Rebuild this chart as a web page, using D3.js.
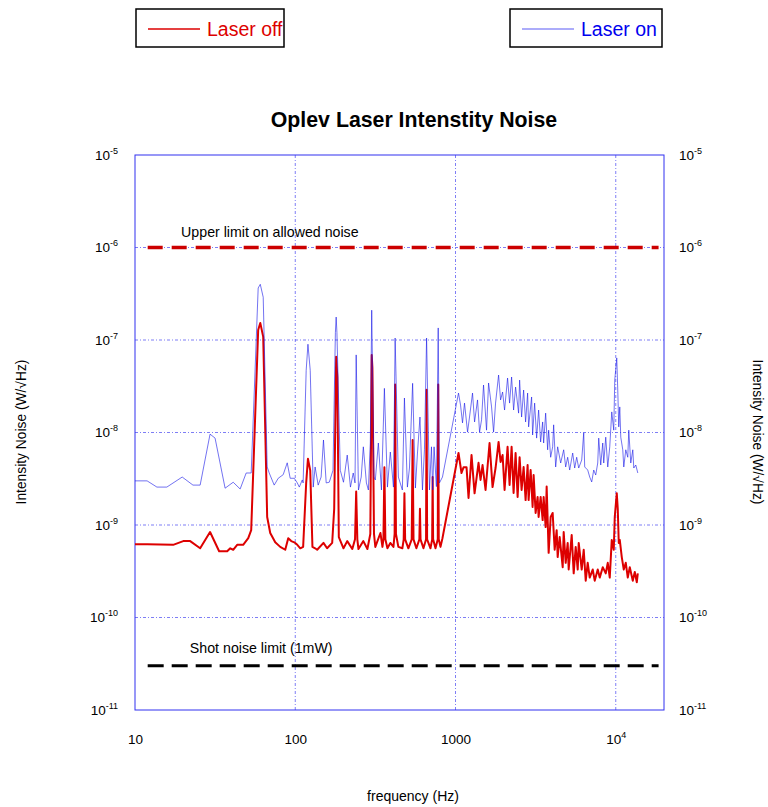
<!DOCTYPE html>
<html>
<head>
<meta charset="utf-8">
<script src="https://cdn.jsdelivr.net/npm/d3@7"></script>
<style>
  body { margin: 0; background: #fff; }
  text { font-family: "Liberation Sans", Arial, sans-serif; }
</style>
</head>
<body>
<svg id="chart" width="768" height="807"></svg>
<script>
// frequency (Hz), intensity noise (W/rtHz)
var laserOff = [
  [10,6.2e-10],[11.9,6.2e-10],[17.3,6.1e-10],[20,6.7e-10],[22.1,6.7e-10],[25.5,5.6e-10],[29.4,8.4e-10],
  [33.5,5.2e-10],[37.6,5.2e-10],[39.3,5.6e-10],[41,5.4e-10],[43.4,6.1e-10],[47.3,6.1e-10],[50.9,7.2e-10],
  [53.1,8.8e-10],[58.7,1.28e-7],[60.5,1.53e-7],[63.1,1.08e-7],[66.8,1.22e-9],[69.8,8.2e-10],[75,6.5e-10],
  [80.6,5.8e-10],[86.6,5.4e-10],[90.4,7.2e-10],[94.4,6.7e-10],[98.6,6.5e-10],[103,6.1e-10],[107.5,5.6e-10],
  [112,5.8e-10],[117,2.85e-9],[120,5.2e-9],[124,3.9e-9],[128,5.8e-10],[133,5.6e-10],[137,5.4e-10],
  [150,6.4e-10],[158,5.6e-10],[170,6.4e-10],[175,1.5e-9],[180,6.6e-8],[183,4e-8],[187,7.4e-10],
  [200,5.6e-10],[211,6.7e-10],[227,5.5e-10],[236,7e-10],[240,2.3e-9],[244,7e-10],[248,5.5e-10],
  [266,6.7e-10],[282,5.5e-10],[294,8e-10],[300,6.9e-8],[303,5e-8],[310,8e-10],[316,5.8e-10],
  [340,8.2e-10],[350,5.8e-10],[355,7e-10],[360,4.2e-9],[365,7e-10],[376,5.6e-10],[392,6.4e-10],
  [410,5.8e-10],[417,8e-10],[420,3.3e-8],[425,8e-10],[440,5.8e-10],[466,5.6e-10],[475,7e-10],
  [480,2.2e-9],[485,7e-10],[508,5.6e-10],[533,7e-10],[540,8.3e-9],[547,7e-10],[570,5.6e-10],
  [595,7e-10],[600,1.5e-9],[605,7e-10],[631,5.6e-10],[655,7e-10],[660,2.9e-8],[665,7e-10],
  [698,5.6e-10],[715,7e-10],[720,3.3e-9],[725,7e-10],[750,5.6e-10],[775,7e-10],[780,3.3e-8],
  [786,7e-10],[806,5.8e-10],[829,7.2e-10],
  [1044,6.0e-9],[1090,3.65e-9],[1122,4.2e-9],[1172,4.2e-9],[1206,1.96e-9],[1259,5.7e-9],[1315,2.2e-9],
  [1392,4.7e-9],[1433,3.07e-9],[1475,4.45e-9],[1540,2.39e-9],[1631,7.7e-9],[1703,2.57e-9],[1778,4.13e-9],
  [1857,7.9e-9],[1911,4.8e-9],[1967,5.7e-9],[2024,2.39e-9],[2113,7.0e-9],[2175,2.71e-9],[2239,7.0e-9],
  [2304,2.22e-9],[2371,6.0e-9],[2441,2.01e-9],[2512,5.4e-9],[2585,2.39e-9],[2661,4.24e-9],[2738,1.86e-9],
  [2818,4.45e-9],[2859,1.86e-9],[2943,3.93e-9],[3028,1.57e-9],[3072,3.47e-9],[3162,1.35e-9],[3254,2.01e-9],
  [3301,1.22e-9],[3398,2.01e-9],[3498,1.13e-9],[3548,2.01e-9],[3652,9.5e-10],[3705,2.6e-9],[3813,5.0e-10],
  [3925,1.22e-9],[4039,1.35e-9],[4157,5.4e-10],[4278,8.8e-10],[4340,4.5e-10],[4467,7.4e-10],[4665,3.5e-10],
  [4732,8.4e-10],[4870,3.9e-10],[5012,6.4e-10],[5085,3.3e-10],[5309,7.8e-10],[5464,3.0e-10],[5623,5.8e-10],
  [5788,3.3e-10],[5872,6.4e-10],[6131,3.3e-10],[6310,5.4e-10],[6494,2.5e-10],[6683,3.9e-10],[6879,2.7e-10],
  [7182,3.3e-10],[7391,2.5e-10],[7718,3.3e-10],[7943,2.7e-10],[8294,3.5e-10],[8660,3.0e-10],[8913,3.9e-10],
  [9173,2.7e-10],[9441,6.9e-10],[9716,5.4e-10],[9857,1.22e-9],[10145,2.2e-9],[10292,1.5e-9],[10441,6.4e-10],
  [10593,6.9e-10],[10902,4.5e-10],[11220,3.3e-10],[11548,3.9e-10],[11885,2.7e-10],[12232,3.5e-10],
  [12771,2.5e-10],[13144,3.1e-10],[13528,2.4e-10],[13725,3.0e-10]
];

var laserOn = [
  [10,3.0e-9],[11.9,3.0e-9],[13.7,2.57e-9],[15.8,2.57e-9],[19.7,3.3e-9],[23,2.7e-9],[25.5,2.7e-9],
  [29.4,9.6e-9],[31.6,8.7e-9],[36.5,2.5e-9],[41,2.9e-9],[45.3,2.45e-9],[49.4,3.65e-9],[53.1,3.65e-9],
  [58.7,3.65e-7],[60.5,4.0e-7],[63.1,2.9e-7],[66.8,4.24e-9],[68.8,3.65e-9],[73.9,2.7e-9],[78.3,3.2e-9],
  [84.1,3.5e-9],[89.1,4.7e-9],[93,3.2e-9],[98.6,3.2e-9],[103,2.85e-9],[106,2.57e-9],[110.6,3.07e-9],
  [112,2.85e-9],[117,4.7e-8],[120,9.0e-8],[124,4.7e-8],[129.5,2.57e-9],[133,4.24e-9],[139,2.7e-9],
  [145,3.3e-9],[150,8.3e-9],[156,2.85e-9],[163,2.9e-9],[172,3.9e-9],[178,1.2e-7],[180,1.77e-7],
  [182,1.2e-7],[191,3.9e-9],[200,2.9e-9],[211,5.7e-9],[221,2.57e-9],[230,3.65e-9],[236,2.85e-9],
  [240,6.9e-8],[248,2.39e-9],[258,3.3e-9],[266,7.0e-9],[278,2.85e-9],[286,2.39e-9],[294,7.7e-9],
  [300,2.1e-7],[310,3.3e-9],[316,3.07e-9],[330,7.7e-9],[345,2.39e-9],[360,3.0e-8],[376,2.57e-9],
  [392,6.15e-9],[410,2.57e-9],[420,1.05e-7],[440,3.3e-9],[466,2.39e-9],[480,2.36e-8],[501,2.57e-9],
  [516,4.13e-9],[540,3.4e-8],[562,2.51e-9],[579,6.0e-9],[600,1.47e-8],[622,2.39e-9],[640,6.5e-9],
  [660,1.05e-7],[688,2.39e-9],[708,7.0e-9],[720,2.4e-9],[735,7e-9],[760,2.6e-9],[780,1.35e-7],
  [794,2.85e-9],[829,3.3e-9],
  [1044,2.67e-8],[1075,1.98e-8],[1106,1.27e-8],[1138,2.08e-8],[1189,1.01e-8],[1223,1.47e-8],[1277,2.67e-8],
  [1315,1.30e-8],[1372,2.25e-8],[1413,1.01e-8],[1454,1.37e-8],[1496,3.26e-8],[1562,1.06e-8],[1608,3.43e-8],
  [1679,1.89e-8],[1728,1.01e-8],[1778,2.08e-8],[1857,4.18e-8],[1911,2.25e-8],[1967,2.74e-8],[2024,1.75e-8],
  [2113,3.88e-8],[2175,2.08e-8],[2239,3.98e-8],[2304,1.75e-8],[2371,3.10e-8],[2476,1.62e-8],[2512,3.69e-8],
  [2585,1.47e-8],[2661,2.88e-8],[2738,1.30e-8],[2818,2.67e-8],[2859,1.15e-8],[2985,2.42e-8],[3028,9.4e-9],
  [3117,2.08e-8],[3208,8.7e-9],[3301,1.75e-8],[3398,7.9e-9],[3498,1.30e-8],[3548,7.7e-9],[3652,1.62e-8],
  [3758,6.5e-9],[3813,1.06e-8],[3925,5.4e-9],[4039,7.0e-9],[4097,1.21e-8],[4217,4.24e-9],[4340,7.0e-9],
  [4532,4.68e-9],[4732,6.5e-9],[4870,4.24e-9],[5012,5.4e-9],[5158,3.93e-9],[5386,6.0e-9],[5543,4.13e-9],
  [5705,5.4e-9],[5872,4.13e-9],[6131,5.04e-9],[6310,9.9e-9],[6401,4.24e-9],[6683,3.93e-9],[6879,3.3e-9],
  [7079,2.92e-9],[7286,3.93e-9],[7499,3.47e-9],[7718,4.68e-9],[7830,8.7e-9],[8058,4.45e-9],[8294,7.7e-9],
  [8414,4.68e-9],[8660,8.9e-9],[8913,4.24e-9],[9173,7.0e-9],[9441,1.67e-8],[9716,1.06e-8],[9857,3.69e-8],
  [10145,6.4e-8],[10292,2.88e-8],[10441,1.15e-8],[10593,1.89e-8],[10746,8.9e-9],[11060,6.5e-9],
  [11220,4.24e-9],[11548,6.5e-9],[11885,5.4e-9],[12057,1.06e-8],[12409,4.68e-9],[12771,6.5e-9],
  [12956,4.13e-9],[13335,4.45e-9],[13725,3.65e-9]
];

var limitSpan = [12, 18500];
var upperLimit = 1e-6;
var shotNoise = 3e-11;

var xTicks = [10, 100, 1000, 10000];
var xTickLabels = [["10", ""], ["100", ""], ["1000", ""], ["10", "4"]];
var yTicks = [1e-5, 1e-6, 1e-7, 1e-8, 1e-9, 1e-10, 1e-11];
var yTickExps = ["-5", "-6", "-7", "-8", "-9", "-10", "-11"];

var margin = { top: 155, right: 104, bottom: 97, left: 135 },
  width = 768 - margin.left - margin.right,
  height = 807 - margin.top - margin.bottom;

var svg = d3.select("#chart");
var g = svg.append("g")
  .attr("transform", "translate(" + margin.left + "," + margin.top + ")");

var x = d3.scaleLog().domain([10, 20000]).range([0, width]);
var y = d3.scaleLog().domain([1e-11, 1e-5]).range([height, 0]);

var gridColor = "#4646f0";

// grid
g.selectAll(".vgrid")
  .data(xTicks.slice(1))
  .enter()
  .append("line")
  .attr("x1", function(d) { return x(d); })
  .attr("x2", function(d) { return x(d); })
  .attr("y1", 0)
  .attr("y2", height)
  .attr("stroke", gridColor)
  .attr("stroke-width", 0.7)
  .attr("stroke-dasharray", "3,2,1,2");

g.selectAll(".hgrid")
  .data(yTicks.slice(1, -1))
  .enter()
  .append("line")
  .attr("x1", 0)
  .attr("x2", width)
  .attr("y1", function(d) { return y(d); })
  .attr("y2", function(d) { return y(d); })
  .attr("stroke", gridColor)
  .attr("stroke-width", 0.7)
  .attr("stroke-dasharray", "3,2,1,2");

// frame
g.append("rect")
  .attr("width", width)
  .attr("height", height)
  .attr("fill", "none")
  .attr("stroke", "#3030f0")
  .attr("stroke-width", 1);

// axes (labels only)
var xAxis = g.append("g")
  .attr("transform", "translate(0," + height + ")")
  .call(d3.axisBottom(x).tickValues(xTicks).tickSize(0).tickPadding(24).tickFormat(""));
xAxis.select(".domain").remove();
xAxis.selectAll(".tick text").each(function(d, i) {
  var t = d3.select(this)
    .attr("font-size", 13.5)
    .attr("fill", "#000")
    .attr("font-family", "Liberation Sans, Arial, sans-serif");
  t.append("tspan").text(xTickLabels[i][0]);
  if (xTickLabels[i][1]) {
    t.append("tspan").attr("dy", -6).attr("font-size", 9).text(xTickLabels[i][1]);
  }
});

function yLabels(sel, anchor) {
  sel.select(".domain").remove();
  sel.selectAll(".tick text").each(function(d, i) {
    var t = d3.select(this)
      .attr("font-size", 13.5)
      .attr("fill", "#000")
      .attr("text-anchor", anchor)
      .attr("font-family", "Liberation Sans, Arial, sans-serif");
    t.append("tspan").text("10");
    t.append("tspan").attr("dy", -6).attr("font-size", 9).text(yTickExps[i]);
  });
}

g.append("g")
  .call(d3.axisLeft(y).tickValues(yTicks).tickSize(0).tickPadding(17).tickFormat(""))
  .call(yLabels, "end");

g.append("g")
  .attr("transform", "translate(" + width + ",0)")
  .call(d3.axisRight(y).tickValues(yTicks).tickSize(0).tickPadding(15).tickFormat(""))
  .call(yLabels, "start");

// limits
g.append("line")
  .attr("x1", x(limitSpan[0])).attr("x2", x(limitSpan[1]))
  .attr("y1", y(upperLimit)).attr("y2", y(upperLimit))
  .attr("stroke", "#cc0000")
  .attr("stroke-width", 3.5)
  .attr("stroke-dasharray", "15,9");

g.append("line")
  .attr("x1", x(limitSpan[0])).attr("x2", x(limitSpan[1]))
  .attr("y1", y(shotNoise)).attr("y2", y(shotNoise))
  .attr("stroke", "#000")
  .attr("stroke-width", 3)
  .attr("stroke-dasharray", "16,8");

g.append("text")
  .attr("x", x(19.4)).attr("y", y(upperLimit) - 11)
  .attr("font-size", 14.2)
  .text("Upper limit on allowed noise");

g.append("text")
  .attr("x", x(22)).attr("y", y(shotNoise) - 13)
  .attr("font-size", 14.2)
  .text("Shot noise limit (1mW)");

// data lines
var line = d3.line()
  .x(function(d) { return x(d[0]); })
  .y(function(d) { return y(d[1]); });

g.append("path")
  .datum(laserOff)
  .attr("d", line)
  .attr("fill", "none")
  .attr("stroke", "#dd0000")
  .attr("stroke-width", 2)
  .attr("stroke-linejoin", "round");

g.append("path")
  .datum(laserOn)
  .attr("d", line)
  .attr("fill", "none")
  .attr("stroke", "#1515e8")
  .attr("stroke-opacity", 0.6)
  .attr("stroke-width", 1);

// titles
svg.append("text")
  .attr("x", 414).attr("y", 127)
  .attr("text-anchor", "middle")
  .attr("font-size", 21.3)
  .attr("font-weight", "bold")
  .text("Oplev Laser Intenstity Noise");

svg.append("text")
  .attr("x", 413).attr("y", 801)
  .attr("text-anchor", "middle")
  .attr("font-size", 14)
  .text("frequency (Hz)");

svg.append("text")
  .attr("transform", "translate(26,432) rotate(-90)")
  .attr("text-anchor", "middle")
  .attr("font-size", 13.8)
  .text("Intensity Noise (W/\u221AHz)");

svg.append("text")
  .attr("transform", "translate(753,432) rotate(90)")
  .attr("text-anchor", "middle")
  .attr("font-size", 13.8)
  .text("Intensity Noise (W/\u221AHz)");

// legend boxes
var legendItems = [
  { name: "Laser off", color: "#dd0000", x: 136, w: 148, op: 1, sw: 1.5 },
  { name: "Laser on", color: "#0000ee", x: 510, w: 152, op: 0.65, sw: 1.2 }
];

var leg = svg.selectAll(".legend")
  .data(legendItems)
  .enter()
  .append("g")
  .attr("transform", function(d) { return "translate(" + d.x + ",9)"; });

leg.append("rect")
  .attr("width", function(d) { return d.w; })
  .attr("height", 38)
  .attr("fill", "#fff")
  .attr("stroke", "#000")
  .attr("stroke-width", 1.5);

leg.append("line")
  .attr("x1", 12).attr("x2", 64)
  .attr("y1", 20).attr("y2", 20)
  .attr("stroke", function(d) { return d.color; })
  .attr("stroke-opacity", function(d) { return d.op; })
  .attr("stroke-width", function(d) { return d.sw; });

leg.append("text")
  .attr("x", 71).attr("y", 27)
  .attr("font-size", 19.5)
  .attr("fill", function(d) { return d.color; })
  .text(function(d) { return d.name; });
</script>
</body>
</html>
